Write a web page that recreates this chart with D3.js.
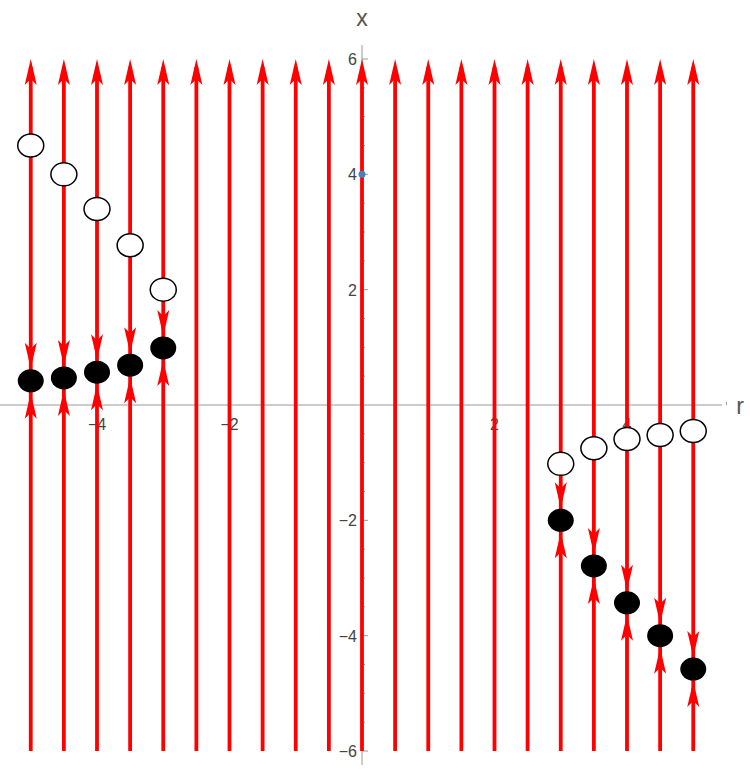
<!DOCTYPE html>
<html><head><meta charset="utf-8">
<script src="https://cdn.jsdelivr.net/npm/d3@7"></script>
<style>body{margin:0;background:#fff}</style></head>
<body><svg id="c" width="750" height="769"></svg>
<script>
const rValues = d3.range(-5, 5.01, 0.5);
// fixed points: [r, unstable x, stable x]
const fixedR = [-5, -4.5, -4, -3.5, -3, 3, 3.5, 4, 4.5, 5];
const unstableX = [4.5, 4.0, 3.4, 2.77, 2.0, -1.02, -0.75, -0.59, -0.52, -0.45];
const stableX = [0.42, 0.47, 0.57, 0.69, 0.99, -2.0, -2.79, -3.43, -4.0, -4.58];
const xTicks = [-4, -2, 2, 4];
const yTicks = [-6, -4, -2, 2, 4, 6];

const sx = d3.scaleLinear().domain([0, 4]).range([362, 627]);
const sy = d3.scaleLinear().domain([0, 6]).range([405, 59]);
const svg = d3.select("#c");
const red = "#ff0000";
const font = "Liberation Sans, Arial";

svg.append("line").attr("x1", 0).attr("x2", 722).attr("y1", sy(0)).attr("y2", sy(0)).attr("stroke", "#999");
svg.append("line").attr("x1", sx(0)).attr("x2", sx(0)).attr("y1", 45).attr("y2", 765).attr("stroke", "#999");
const minorX = d3.range(-5.5, 5.6, 0.5).filter(v => !xTicks.includes(v) && v !== 0);
svg.selectAll(".mx").data(minorX).join("line").attr("x1", d => sx(d)).attr("x2", d => sx(d))
  .attr("y1", sy(0)).attr("y2", sy(0) - 3).attr("stroke", "#999");
svg.selectAll(".tx").data(xTicks).join("line").attr("x1", d => sx(d)).attr("x2", d => sx(d))
  .attr("y1", sy(0)).attr("y2", sy(0) - 6).attr("stroke", "#999");
svg.selectAll(".tl").data(xTicks).join("text").attr("x", d => sx(d)).attr("y", sy(0) + 25)
  .attr("text-anchor", "middle").attr("font-family", font).attr("font-size", 16).attr("fill", "#444")
  .text(d => d < 0 ? "\u2212" + (-d) : d);
const minorY = d3.range(-6, 6.1, 0.5).filter(v => !yTicks.includes(v) && v !== 0);
svg.selectAll(".my").data(minorY).join("line").attr("x1", sx(0)).attr("x2", sx(0) + 3)
  .attr("y1", d => sy(d)).attr("y2", d => sy(d)).attr("stroke", "#999");
svg.selectAll(".ty").data(yTicks).join("line").attr("x1", sx(0)).attr("x2", sx(0) + 6)
  .attr("y1", d => sy(d)).attr("y2", d => sy(d)).attr("stroke", "#999");
svg.selectAll(".yl").data(yTicks).join("text").attr("x", sx(0) - 5).attr("y", d => sy(d) + 6)
  .attr("text-anchor", "end").attr("font-family", font).attr("font-size", 16).attr("fill", "#444")
  .text(d => d < 0 ? "\u2212" + (-d) : d);
svg.append("text").attr("x", sx(0)).attr("y", 26).attr("text-anchor", "middle").attr("font-family", font).attr("font-size", 23).attr("fill", "#555").text("x");
svg.append("text").attr("x", 740).attr("y", sy(0) + 9).attr("text-anchor", "middle").attr("font-family", font).attr("font-size", 23).attr("fill", "#555").text("r");

svg.selectAll(".fl").data(rValues).join("line").attr("x1", d => sx(d)).attr("x2", d => sx(d))
  .attr("y1", sy(-6)).attr("y2", sy(6) + 8).attr("stroke", red).attr("stroke-width", 3.8);

function arrow(r, yTipVal, dir, offset) {
  const x = sx(r), tip = sy(yTipVal) + dir * (offset || 0);
  const L = 26, W = 6, N = 20;
  return `M${x},${tip} L${x - W},${tip - dir * L} L${x},${tip - dir * N} L${x + W},${tip - dir * L} Z`;
}
const arrows = rValues.map(r => ({ r, y: 6, dir: -1, off: 0 }));
fixedR.forEach((r, i) => {
  arrows.push({ r, y: stableX[i], dir: 1, off: -12 });
  arrows.push({ r, y: stableX[i], dir: -1, off: -12 });
});
svg.selectAll(".ar").data(arrows).join("path").attr("d", d => arrow(d.r, d.y, d.dir, d.off)).attr("fill", red);

svg.selectAll(".un").data(fixedR).join("ellipse").attr("cx", d => sx(d)).attr("cy", (d, i) => sy(unstableX[i]))
  .attr("rx", 13).attr("ry", 11.5).attr("fill", "#fff").attr("stroke", "#000").attr("stroke-width", 1.5);
svg.selectAll(".st").data(fixedR).join("ellipse").attr("cx", d => sx(d)).attr("cy", (d, i) => sy(stableX[i]))
  .attr("rx", 13).attr("ry", 11.5).attr("fill", "#000");
svg.append("circle").attr("cx", sx(0)).attr("cy", sy(4)).attr("r", 3.5).attr("fill", "#4a7fc1");
</script></body></html>
